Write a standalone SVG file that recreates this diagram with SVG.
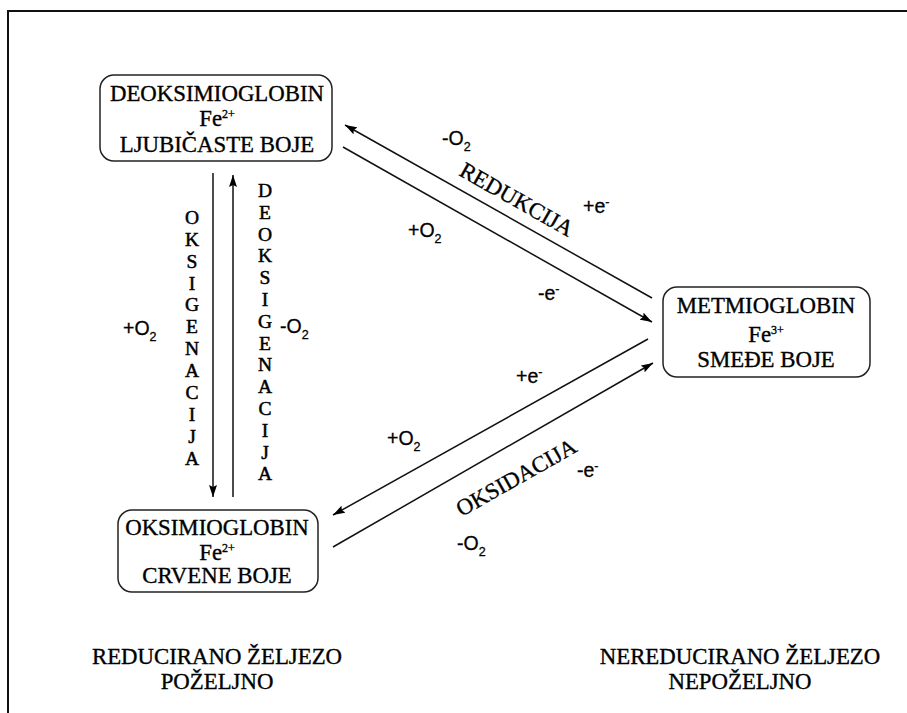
<svg xmlns="http://www.w3.org/2000/svg" width="907" height="713" viewBox="0 0 907 713">
<defs>
<marker id="ah" viewBox="0 0 12 8" refX="12" refY="4" markerWidth="12" markerHeight="8" markerUnits="userSpaceOnUse" orient="auto">
<path d="M0,0 L12,4 L0,8 L2,4 Z" fill="#000"/>
</marker>
<style>
.box{fill:#fff;stroke:#222;stroke-width:1.5}
.t{font-family:"Liberation Serif","Times New Roman",serif;font-size:22.8px;fill:#000;stroke:#000;stroke-width:0.35;text-anchor:middle}
.v{font-family:"Liberation Serif","Times New Roman",serif;font-size:19.5px;fill:#000;stroke:#000;stroke-width:0.5;text-anchor:middle}
.s{font-family:"Liberation Sans",Arial,sans-serif;font-size:19.5px;fill:#000;stroke:#000;stroke-width:0.3}
.sub{font-size:12.5px}
.ln{stroke:#111;stroke-width:1.5;fill:none;marker-end:url(#ah)}
</style>
</defs>
<rect width="907" height="713" fill="#fff"/>
<path d="M8,713 V11 H907" fill="none" stroke="#111" stroke-width="2"/>

<g id="deoksimioglobin">
<rect class="box" x="100" y="75" width="232" height="86" rx="14"/>
<text class="t" x="217" y="101">DEOKSIMIOGLOBIN</text>
<text class="t" x="217" y="126">Fe<tspan dy="-8" font-size="12">2+</tspan></text>
<text class="t" x="217" y="152">LJUBIČASTE BOJE</text>
</g>

<g id="metmioglobin">
<rect class="box" x="663" y="287" width="207" height="90" rx="14"/>
<text class="t" x="766" y="313">METMIOGLOBIN</text>
<text class="t" x="766" y="342">Fe<tspan dy="-8" font-size="12">3+</tspan></text>
<text class="t" x="766" y="367">SMEĐE BOJE</text>
</g>

<g id="oksimioglobin">
<rect class="box" x="118" y="510" width="200" height="82" rx="14"/>
<text class="t" x="217" y="535">OKSIMIOGLOBIN</text>
<text class="t" x="217" y="560">Fe<tspan dy="-8" font-size="12">2+</tspan></text>
<text class="t" x="217" y="583">CRVENE BOJE</text>
</g>

<g id="connectors">
<line class="ln" x1="213" y1="173" x2="213" y2="497"/>
<line class="ln" x1="233" y1="497" x2="233" y2="175"/>
<line class="ln" x1="652" y1="298" x2="345" y2="125"/>
<line class="ln" x1="343" y1="147" x2="652" y2="322"/>
<line class="ln" x1="648" y1="339" x2="333" y2="515"/>
<line class="ln" x1="333" y1="547" x2="653" y2="363"/>
</g>

<g id="labels">
<text class="v">
<tspan x="192" y="224">O</tspan><tspan x="192" y="246">K</tspan><tspan x="192" y="268">S</tspan><tspan x="192" y="290">I</tspan><tspan x="192" y="311">G</tspan><tspan x="192" y="333">E</tspan><tspan x="192" y="355">N</tspan><tspan x="192" y="377">A</tspan><tspan x="192" y="399">C</tspan><tspan x="192" y="421">I</tspan><tspan x="192" y="443">J</tspan><tspan x="192" y="465">A</tspan>
</text>
<text class="v">
<tspan x="265" y="197">D</tspan><tspan x="265" y="219">E</tspan><tspan x="265" y="241">O</tspan><tspan x="265" y="262">K</tspan><tspan x="265" y="284">S</tspan><tspan x="265" y="306">I</tspan><tspan x="265" y="328">G</tspan><tspan x="265" y="350">E</tspan><tspan x="265" y="371">N</tspan><tspan x="265" y="393">A</tspan><tspan x="265" y="415">C</tspan><tspan x="265" y="437">I</tspan><tspan x="265" y="459">J</tspan><tspan x="265" y="480">A</tspan>
</text>
<text class="s" x="123" y="335">+O<tspan class="sub" dy="6">2</tspan></text>
<text class="s" x="280" y="333">-O<tspan class="sub" dy="6">2</tspan></text>

<text class="s" x="442" y="145">-O<tspan class="sub" dy="6">2</tspan></text>
<text class="t" transform="translate(513,206) rotate(29.5)" x="0" y="0">REDUKCIJA</text>
<text class="s" x="583" y="213">+e<tspan class="sub" dy="-7">-</tspan></text>
<text class="s" x="408" y="237">+O<tspan class="sub" dy="6">2</tspan></text>
<text class="s" x="538" y="300">-e<tspan class="sub" dy="-7">-</tspan></text>

<text class="s" x="516" y="383">+e<tspan class="sub" dy="-7">-</tspan></text>
<text class="s" x="387" y="445">+O<tspan class="sub" dy="6">2</tspan></text>
<text class="t" transform="translate(520,484) rotate(-29.5)" x="0" y="0">OKSIDACIJA</text>
<text class="s" x="577" y="477">-e<tspan class="sub" dy="-7">-</tspan></text>
<text class="s" x="457" y="550">-O<tspan class="sub" dy="6">2</tspan></text>

<text class="t" x="217" y="664">REDUCIRANO ŽELJEZO</text>
<text class="t" x="217" y="689">POŽELJNO</text>
<text class="t" x="740" y="664">NEREDUCIRANO ŽELJEZO</text>
<text class="t" x="740" y="689">NEPOŽELJNO</text>
</g>
</svg>
